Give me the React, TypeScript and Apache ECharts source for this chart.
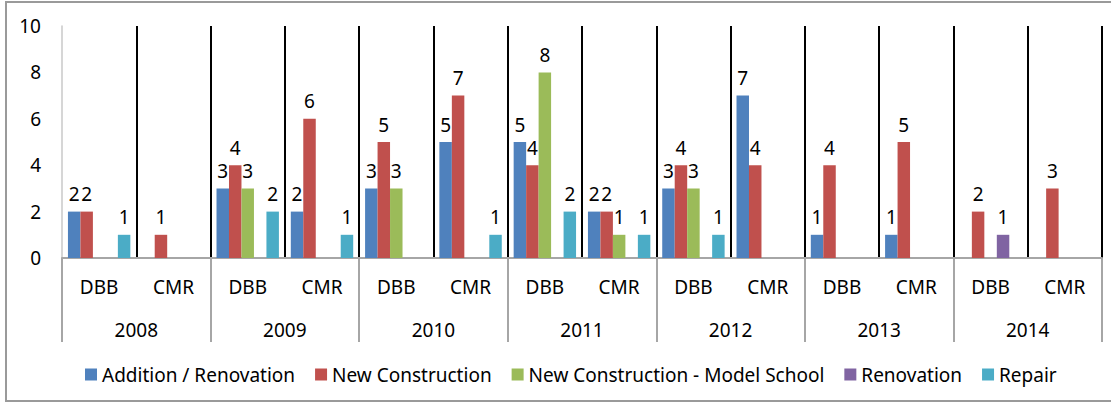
import React, { useEffect, useRef } from "react";
import * as echarts from "echarts";

const categories = ["DBB", "CMR", "DBB", "CMR", "DBB", "CMR", "DBB", "CMR", "DBB", "CMR", "DBB", "CMR", "DBB", "CMR"];
const years = ["2008", "2009", "2010", "2011", "2012", "2013", "2014"];
const yTicks = { min: 0, max: 10, interval: 2 };

const additionRenovation = [2, null, 3, 2, 3, 5, 5, 2, 3, 7, 1, 1, null, null];
const newConstruction = [2, 1, 4, 6, 5, 7, 4, 2, 4, 4, 4, 5, 2, 3];
const modelSchool = [null, null, 3, null, 3, null, 8, 1, 3, null, null, null, null, null];
const renovation = [null, null, null, null, null, null, null, null, null, null, null, null, 1, null];
const repair = [1, null, 2, 1, null, 1, 2, 1, 1, null, null, null, null, null];

const seriesDefs = [
  { name: "Addition / Renovation", data: additionRenovation, color: "#4F81BD" },
  { name: "New Construction", data: newConstruction, color: "#C0504D" },
  { name: "New Construction - Model School", data: modelSchool, color: "#9BBB59" },
  { name: "Renovation", data: renovation, color: "#8064A2" },
  { name: "Repair", data: repair, color: "#4BACC6" },
];

const FONT = "Noto Sans";
const FS = 19;

export default function App() {
  const ref = useRef<HTMLDivElement>(null);
  useEffect(() => {
    if (!ref.current) return;
    const chart = echarts.init(ref.current, null, { renderer: "svg" });
    chart.setOption({
      animation: false,
      backgroundColor: "#fff",
      textStyle: { fontFamily: FONT },
      graphic: [
        {
          type: "rect",
          shape: { x: 6, y: 2, width: 1120, height: 399 },
          style: { fill: "none", stroke: "#9a9a9a", lineWidth: 2 },
          z: 100,
        },
      ],
      grid: { left: 62, right: 9, top: 26, bottom: 144, containLabel: false },
      legend: {
        bottom: 13,
        left: 80,
        itemWidth: 12,
        itemHeight: 12,
        itemGap: 20,
        icon: "rect",
        textStyle: { fontFamily: FONT, fontSize: FS, color: "#000" },
        data: seriesDefs.map((s) => s.name),
      },
      xAxis: [
        {
          type: "category",
          data: categories,
          position: "bottom",
          axisLine: { show: true, lineStyle: { color: "#a6a6a6", width: 2 } },
          axisTick: { show: false },
          axisLabel: { interval: 0, margin: 19, color: "#000", fontFamily: FONT, fontSize: FS },
          splitLine: {
            show: true,
            interval: 0,
            showMinLine: false,
            lineStyle: { color: "#000", width: 2 },
          },
        },
        {
          type: "category",
          data: years,
          position: "bottom",
          axisLine: { show: false },
          axisTick: { show: true, length: 84, lineStyle: { color: "#a6a6a6", width: 2 } },
          axisLabel: { interval: 0, margin: 62, color: "#000", fontFamily: FONT, fontSize: FS },
          splitLine: { show: false },
        },
      ],
      yAxis: {
        type: "value",
        min: yTicks.min,
        max: yTicks.max,
        interval: yTicks.interval,
        axisLine: { show: true, lineStyle: { color: "#c8c8c8", width: 1.5 } },
        axisTick: { show: false },
        splitLine: { show: false },
        axisLabel: { margin: 21, color: "#000", fontFamily: FONT, fontSize: FS },
      },
      series: seriesDefs.map((s) => ({
        name: s.name,
        type: "bar",
        xAxisIndex: 0,
        data: s.data,
        barGap: "0%",
        barCategoryGap: "16%",
        itemStyle: { color: s.color },
        label: {
          show: true,
          position: "top",
          distance: 8,
          color: "#000",
          fontFamily: FONT,
          fontSize: FS,
        },
      })),
    });
    return () => chart.dispose();
  }, []);
  return (
    <div
      ref={ref}
      style={{ position: "absolute", left: 0, top: 0, width: 1111, height: 402, background: "#fff" }}
    />
  );
}
